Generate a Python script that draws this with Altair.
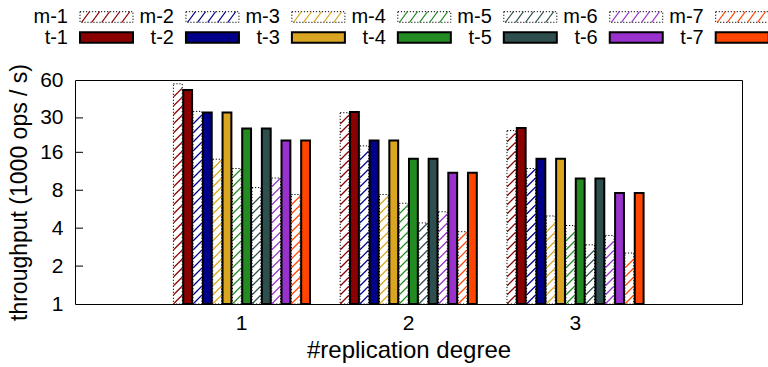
import altair as alt
import pandas as pd

FONT = "Liberation Sans"

# replication degree groups on the x axis
GROUPS = ["1", "2", "3"]

# throughput (1000 ops / s) per replication degree, "m" series (hatched)
m1 = [56.0, 33.0, 23.8]
m2 = [33.8, 18.0, 11.9]
m3 = [14.1, 7.4, 5.0]
m4 = [11.9, 6.3, 4.2]
m5 = [8.4, 4.4, 2.95]
m6 = [10.0, 5.4, 3.5]
m7 = [7.4, 3.75, 2.54]

# throughput (1000 ops / s) per replication degree, "t" series (solid)
t1 = [50.0, 33.4, 24.9]
t2 = [33.2, 19.9, 14.2]
t3 = [33.2, 19.9, 14.2]
t4 = [24.7, 14.2, 9.9]
t5 = [24.7, 14.2, 9.9]
t6 = [19.9, 11.0, 7.6]
t7 = [19.9, 11.0, 7.6]

Y_TICKS = [1, 2, 4, 8, 16, 30, 60]
INNER_TICKS = [2, 4, 8, 16, 30]

PALETTE = ["#8b0000", "#00008b", "#daa520", "#228b22", "#2f4f4f", "#9932cc", "#ff4500"]
IDS = [1, 2, 3, 4, 5, 6, 7]

M_SERIES = [m1, m2, m3, m4, m5, m6, m7]
T_SERIES = [t1, t2, t3, t4, t5, t6, t7]

records = []
for i, (mv, tv) in enumerate(zip(M_SERIES, T_SERIES), start=1):
    for g, a, b in zip(GROUPS, mv, tv):
        records.append({"group": g, "series": f"m-{i}", "idx": i, "kind": "m", "value": a})
        records.append({"group": g, "series": f"t-{i}", "idx": i, "kind": "t", "value": b})
df = pd.DataFrame(records)

SLOT_ORDER = [f"{k}-{i}" for i in IDS for k in ("m", "t")]

legend_df = pd.DataFrame(
    {
        "series": [f"{k}-{i}" for k in ("m", "t") for i in IDS],
        "idx": [i for _ in ("m", "t") for i in IDS],
        "row": [r for r in (0, 1) for _ in IDS],
    }
)
ticks_df = pd.DataFrame({"v": INNER_TICKS})

# shared scales of the plot
x_scale = alt.Scale(domain=GROUPS, paddingInner=0.181, paddingOuter=0.59)
xo_scale = alt.Scale(domain=SLOT_ORDER, paddingInner=0.1, paddingOuter=0)
y_scale = alt.Scale(type="log", domain=[1, 60], nice=False, zero=False)
color_scale = alt.Scale(domain=IDS, range=PALETTE)

X_TITLE = "#replication degree"
Y_TITLE = "throughput (1000 ops / s)"
x_axis = alt.Axis(labelAngle=0, labelPadding=8, titlePadding=5,
                  labelFontSize=21, titleFontSize=24)
y_axis = alt.Axis(values=Y_TICKS, labelPadding=12, titlePadding=8,
                  labelFontSize=21, titleFontSize=23)

x_enc = alt.X("group:N", scale=x_scale, title=X_TITLE, axis=x_axis)
xo_enc = alt.XOffset("series:N", scale=xo_scale)


def y_enc(field):
    return alt.Y(field, scale=y_scale, title=Y_TITLE, axis=y_axis)


base = alt.Chart(df)

m_bars = (
    base.transform_filter("datum.kind == 'm'")
    .mark_bar(fill="white", stroke="black", strokeWidth=1, strokeDash=[1.2, 1.8])
    .encode(x=x_enc, xOffset=xo_enc, y=y_enc("value:Q"), y2=alt.datum(1))
)

# diagonal hatching of the "m" bars: one slash every HATCH_STEP decades
HATCH_STEP = 9 / 126
hatch = (
    base.transform_filter("datum.kind == 'm'")
    .transform_calculate(k=f"sequence(0, floor(log(datum.value) / LN10 / {HATCH_STEP}))")
    .transform_flatten(["k"])
    .transform_calculate(hy=f"pow(10, (datum.k + 0.5) * {HATCH_STEP})")
    .mark_point(shape="M-1,1L1,-1", size=72, filled=False, strokeWidth=1.2, opacity=1)
    .encode(
        x=x_enc,
        xOffset=xo_enc,
        y=y_enc("hy:Q"),
        stroke=alt.Stroke("idx:N", scale=color_scale, legend=None),
    )
)

t_bars = (
    base.transform_filter("datum.kind == 't'")
    .mark_bar(stroke="black", strokeWidth=2)
    .encode(
        x=x_enc,
        xOffset=xo_enc,
        y=y_enc("value:Q"),
        y2=alt.datum(1),
        fill=alt.Fill("idx:N", scale=color_scale, legend=None),
    )
)

# inward-pointing y ticks
inner_ticks = (
    alt.Chart(ticks_df)
    .mark_rule(color="black", strokeWidth=1)
    .encode(x=alt.value(0), x2=alt.value(8), y=y_enc("v:Q"))
)

main = alt.layer(m_bars, hatch, t_bars, inner_ticks)

# key above the plot: label followed by its swatch, two rows
leg_x = alt.Scale(domain=[1, 7], range=[5, 640.7], zero=False, nice=False)
leg_y = alt.Scale(domain=[0, 1], range=[-63, -42.5], zero=False, nice=False)
lx = alt.X("idx:Q", scale=leg_x, axis=None)
ly = alt.Y("row:Q", scale=leg_y, axis=None)

RECT_PATH = "M0,-0.1L1,-0.1L1,0.1L0,0.1Z"
HATCH_PATH = "".join(f"M{x0:.2f},0.1L{x0 + 0.15:.2f},-0.1" for x0 in (0.03, 0.22, 0.41, 0.6, 0.79))
SW_SIZE = (2 * 53) ** 2

leg_base = alt.Chart(legend_df)
leg_text = leg_base.mark_text(
    align="right", baseline="middle", dx=-12, fontSize=20, font=FONT, color="black"
).encode(x=lx, y=ly, text="series:N")
leg_box = leg_base.transform_filter("datum.row == 0").mark_point(
    shape=RECT_PATH, size=SW_SIZE, filled=True, fill="white", stroke="black",
    strokeWidth=1, strokeDash=[1.2, 1.8], opacity=1,
).encode(x=lx, y=ly)
leg_hatch = leg_base.transform_filter("datum.row == 0").mark_point(
    shape=HATCH_PATH, size=SW_SIZE, filled=False, strokeWidth=1.1, opacity=1
).encode(x=lx, y=ly, stroke=alt.Stroke("idx:N", scale=color_scale, legend=None))
leg_solid = leg_base.transform_filter("datum.row == 1").mark_point(
    shape=RECT_PATH, size=SW_SIZE, filled=True, stroke="black", strokeWidth=2, opacity=1
).encode(x=lx, y=ly, fill=alt.Fill("idx:N", scale=color_scale, legend=None))

legend = alt.layer(leg_box, leg_hatch, leg_solid, leg_text)

chart = (
    alt.layer(main, legend)
    .resolve_scale(x="independent", y="independent", fill="independent", stroke="independent")
    .properties(
        width=667,
        height=224,
        autosize=alt.AutoSizeParams(type="none"),
        padding={"left": 75, "top": 80, "right": 26, "bottom": 63},
    )
    .configure(font=FONT)
    .configure_view(stroke="black", strokeWidth=1)
    .configure_axis(
        labelFont=FONT,
        titleFont=FONT,
        titleFontWeight="normal",
        labelColor="black",
        titleColor="black",
        ticks=False,
        domain=False,
        grid=False,
    )
)

chart.save("out.html", embed_options={"renderer": "svg", "actions": False})
